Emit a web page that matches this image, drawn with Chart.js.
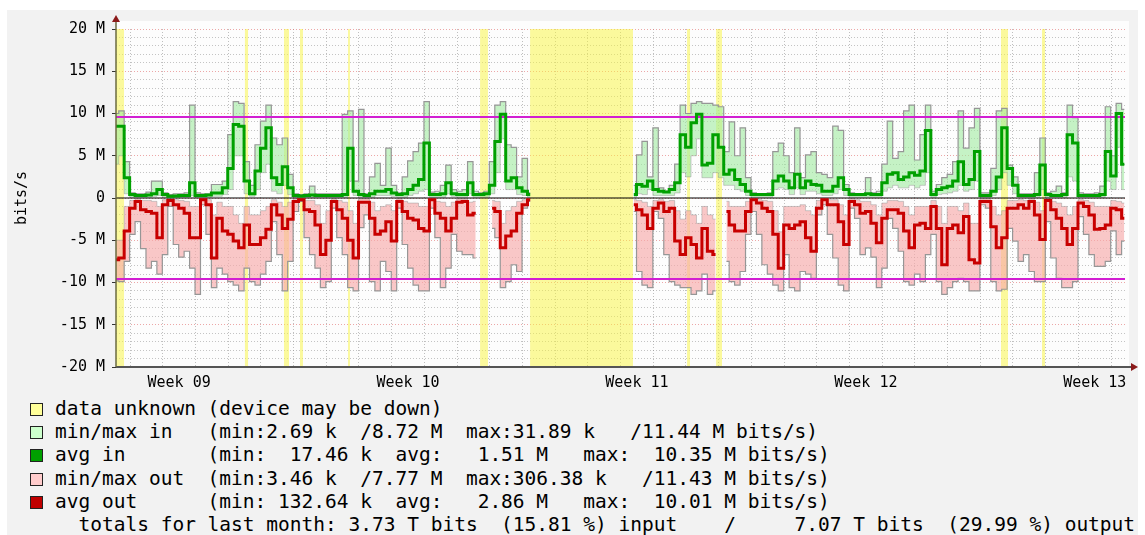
<!DOCTYPE html>
<html><head><meta charset="utf-8">
<script src="https://cdn.jsdelivr.net/npm/chart.js@4.4.1/dist/chart.umd.min.js"></script>
<style>
html,body{margin:0;padding:0;background:#fff;width:1145px;height:535px;overflow:hidden;position:relative;}
#bg{position:absolute;left:7px;top:10px;width:1131px;height:525px;background:#f2f2f2;}
#c{position:absolute;left:0;top:0;}
.row{position:absolute;left:55px;font-family:'DejaVu Sans Mono',monospace;font-size:19.5px;white-space:pre;color:#000;line-height:22px;height:22px;}
.box{position:absolute;left:30px;width:11px;height:11px;border:1px solid #222;}
</style></head><body>
<div id="bg"></div>
<canvas id="c" width="1145" height="395"></canvas>
<div id="legend"></div>
<script>
// ---- data (values in M bits/s, one sample every 4 hours) ----
const STEP_HOURS = 4;
const X_MAX_HOURS = 740.5;
const maxIn = [10,10.3,4.3,0.6,0.5,0.5,0.7,2.0,2.0,0.6, 0.4,0.5,0.5,0.6,11.0,0.6,0.5,0.5,1.6,1.6, 2.0,7.5,11.4,11.2,4.3,1.5,6.3,9.1,11.0,7.1,
 6.3,7.1,2.8,0.5,0.4,0.5,1.4,0.5,0.5,0.5, 0.5,0.5,9.9,10.3,2.0,10.5,0.5,2.5,4.1,1.5, 5.9,1.5,0.6,2.5,4.4,5.5,6.5,11.4,0.7,0.8,
 1.5,3.9,1.0,0.8,1.0,4.3,0.8,0.6,0.8,4.3, 11.0,11.4,6.3,6.0,2.5,4.7,0.6,null,null,null, null,null,null,null,null,null,null,null,null,null,
 null,null,null,null,null,1.5,5.1,6.7,2.5,8.3, 1.2,0.8,1.5,4.0,11.0,10.0,11.2,11.4,11.2,11.2, 11.0,10.8,5.5,9.0,5.0,8.3,2.4,0.6,0.5,0.5,
 0.6,5.5,6.5,5.0,3.0,8.3,2.4,5.1,5.5,3.0, 2.8,2.4,8.5,8.0,1.6,0.6,0.5,0.5,2.4,0.6, 0.8,4.0,9.1,4.7,5.5,10.3,11.0,4.5,7.5,11.0,
 0.8,1.6,2.4,2.8,4.3,10.3,5.9,8.3,10.6,0.6, 0.6,3.5,10.3,10.6,3.9,2.5,0.5,0.5,0.5,3.0, 7.1,0.6,0.8,1.4,0.6,11.0,9.5,0.6,0.5,0.5,
 0.6,1.4,10.8,5.0,11.2,10.5];
const minIn = [4,5,0.5,0.1,0.1,0.1,0.1,0.2,0.3,0.1, 0.1,0.1,0.1,0.1,0.3,0.1,0.1,0.1,0.2,0.2, 0.4,1,5,5,0.5,0.2,1,3,4,0.8,
 0.5,1.5,0.4,0.1,0.1,0.1,0.1,0.1,0.1,0.1, 0.1,0.1,0.1,2,0.3,0.1,0.1,0.1,0.3,0.3, 0.3,0.2,0.1,0.1,0.3,0.5,0.8,1,0.1,0.1,
 0.1,0.5,0.2,0.1,0.1,0.5,0.1,0.1,0.1,0.5, 3,7,1,1,0.4,0.3,0.1,null,null,null, null,null,null,null,null,null,null,null,null,null,
 null,null,null,null,null,0.1,0.5,0.4,1,0.3, 0.3,0.3,0.3,0.6,3,2.5,5,7,2.4,2.4, 3,2.4,1.5,1.5,1,0.8,0.3,0.1,0.1,0.1,
 0.1,1,1.2,1,0.4,1.2,0.4,0.8,0.8,0.5, 0.3,0.3,0.5,1,0.3,0.1,0.1,0.1,0.1,0.1, 0.1,0.8,1.2,1.5,1.2,1.2,1.5,1.2,1.5,3,
 0.1,0.4,0.5,0.6,0.8,1.5,0.8,1,2,0.1, 0.1,0.3,1,3,1.5,0.5,0.1,0.1,0.1,0.1, 1,0.1,0.1,0.1,0.1,2.5,2,0.1,0.1,0.1,
 0.1,0.1,2,1,6,1];
const avgIn = [8.5,8.5,2.4,0.4,0.3,0.3,0.35,0.5,1.0,0.4, 0.2,0.25,0.3,0.3,1.8,0.3,0.3,0.35,0.6,0.6, 1.2,3.5,8.7,8.5,2.0,0.5,3.2,5.9,8.3,2.4,
 1.6,3.7,1.2,0.3,0.25,0.3,0.35,0.3,0.3,0.3, 0.3,0.3,0.4,5.9,0.8,0.4,0.3,0.5,0.8,0.8, 1.0,0.6,0.4,0.5,1.0,1.5,2.2,6.5,0.4,0.4,
 0.5,1.8,0.5,0.4,0.4,1.8,0.4,0.4,0.5,1.5, 6.7,9.9,2.0,2.4,1.2,0.8,0.4,null,null,null, null,null,null,null,null,null,null,null,null,null,
 null,null,null,null,null,0.4,1.6,1.4,2.0,1.0, 0.8,0.7,1.0,1.8,7.5,6.0,8.9,9.9,3.9,4.1, 7.5,6.0,2.8,3.3,2.2,1.6,0.8,0.4,0.4,0.4,
 0.4,2.0,2.6,2.0,1.2,2.8,1.2,2.0,1.6,1.5, 0.8,0.8,1.4,2.4,1.0,0.4,0.4,0.4,0.5,0.4, 0.4,1.8,2.8,3.0,2.2,2.5,3.0,2.7,3.2,8.0,
 0.4,1.0,1.2,1.4,2.0,4.3,1.6,2.2,5.5,0.3, 0.3,0.8,2.5,8.3,3.5,1.5,0.3,0.3,0.3,0.4, 3.9,0.4,0.3,0.3,0.4,7.5,6.5,0.3,0.3,0.3,
 0.3,0.4,5.5,2.6,10.0,4.0];
const avgOut = [-7.3,-7.1,-3.9,-1.2,-0.4,-1.4,-1.6,-1.8,-4.7,-0.8, -0.3,-0.8,-1.2,-1.8,-4.7,-4.7,-0.2,-0.8,-7.1,-2.4, -3.9,-4.3,-5.1,-5.9,-3.2,-5.5,-5.5,-4.7,-3.7,-0.8,
 -2.0,-3.6,-2.5,-0.4,-0.2,-1.4,-1.6,-3.2,-6.7,-5.0, -0.4,-1.4,-2.4,-5.0,-7.1,-0.5,-0.5,-2.4,-4.3,-3.9, -2.8,-5.1,-0.4,-1.6,-2.4,-2.6,-3.6,-3.9,-0.2,-1.8,
 -2.4,-3.9,-2.4,-0.5,-0.4,-2.0,-1.8,null,null,-1.2, -1.6,-5.9,-4.5,-3.9,-1.8,-0.8,-0.2,null,null,null, null,null,null,null,null,null,null,null,null,null,
 null,null,null,null,null,-0.8,-1.4,-2.0,-3.6,-1.2, -0.6,-1.6,-1.2,-5.1,-6.7,-4.7,-5.5,-7.1,-3.6,-6.3, -6.7,null,-1.6,-3.2,-3.9,-3.9,-1.6,-0.2,-0.6,-1.2,
 -1.6,-4.3,-8.3,-3.2,-3.6,-3.2,-2.8,-4.7,-6.3,-1.2, -0.2,-0.8,-0.8,-2.8,-5.5,-0.4,-0.8,-1.8,-1.6,-3.0, -5.3,-2.4,-1.4,-1.4,-1.8,-3.9,-5.9,-3.2,-3.0,-3.6,
 -1.0,-3.6,-7.9,-3.6,-3.2,-4.1,-2.2,-7.3,-7.7,-0.4, -0.4,-3.4,-5.9,-4.7,-1.2,-1.2,-0.8,-1.2,-0.4,-2.0, -4.9,-0.3,-1.4,-2.4,-3.6,-5.5,-3.6,-0.6,-1.0,-2.0,
 -3.7,-3.6,-3.2,-1.2,-1.4,-2.4];
const maxOut = [-9.8,-9.9,-7.5,-4.3,-2.8,-6.0,-8.3,-7.5,-9.0,-6.7, -1.0,-5.5,-7.0,-6.3,-8.3,-11.4,-0.8,-4.3,-10.6,-8.3, -9.0,-9.9,-10.3,-11.0,-8.3,-9.9,-10.3,-9.0,-7.5,-2.8,
 -6.7,-11.0,-7.5,-1.6,-0.4,-4.7,-6.7,-8.3,-10.6,-9.9, -1.2,-4.7,-6.7,-10.6,-11.0,-3.5,-2.0,-9.9,-11.0,-7.5, -8.7,-11.0,-1.2,-5.5,-8.3,-10.3,-11.0,-11.0,-1.2,-4.7,
 -10.6,-8.3,-4.3,-6.3,-6.7,-6.7,-7.1,null,null,-3.6, -4.7,-10.6,-9.9,-7.9,-8.7,-1.2,-0.4,null,null,null, null,null,null,null,null,null,null,null,null,null,
 null,null,null,null,null,-1.6,-8.7,-10.3,-10.6,-1.6, -2.4,-6.7,-9.9,-10.3,-10.6,-10.6,-11.4,-11.0,-9.0,-11.4, -11.0,null,-7.5,-9.9,-10.3,-8.7,-4.3,-1.6,-4.3,-7.9,
 -9.0,-10.3,-11.0,-6.7,-10.6,-11.0,-8.7,-9.0,-9.5,-2.0, -0.8,-4.3,-7.1,-10.3,-11.0,-1.2,-2.4,-6.7,-5.9,-7.0, -10.6,-8.3,-2.4,-3.6,-6.3,-9.9,-10.3,-9.0,-9.9,-6.7,
 -4.3,-9.9,-11.4,-10.6,-9.9,-9.5,-9.9,-11.0,-11.0,-0.8, -1.2,-9.9,-11.0,-10.8,-3.6,-5.1,-7.5,-6.7,-8.7,-9.9, -9.9,-2.8,-7.1,-9.5,-10.6,-10.6,-9.9,-2.2,-4.3,-6.7,
 -8.1,-8.1,-7.5,-3.9,-6.7,-5.1];
const minOut = [-5,-5,-1,-0.3,-0.1,-0.3,-0.3,-0.4,-1,-0.2, -0.1,-0.2,-0.3,-0.4,-1,-1,-0.1,-0.2,-2,-0.5, -1,-1,-2,-3,-1,-2,-2,-1.5,-1,-0.2,
 -0.5,-1,-0.5,-0.1,-0.1,-0.3,-0.3,-0.8,-3,-1.5, -0.1,-0.3,-0.5,-1.5,-3,-0.1,-0.1,-0.5,-1.5,-1, -0.8,-1.5,-0.1,-0.4,-0.6,-0.6,-1,-1,-0.1,-0.4,
 -0.5,-1,-0.5,-0.1,-0.1,-0.5,-0.4,null,null,-0.3, -0.4,-3,-1.5,-1,-0.4,-0.2,-0.1,null,null,null, null,null,null,null,null,null,null,null,null,null,
 null,null,null,null,null,-0.2,-0.3,-0.5,-1,-0.3, -0.2,-0.4,-0.3,-1.5,-2.5,-1.5,-2,-3,-1,-2, -2.5,null,-0.4,-1,-1,-1,-0.4,-0.1,-0.2,-0.3,
 -0.4,-1.5,-4,-1,-1,-1,-0.8,-1.5,-2,-0.3, -0.1,-0.2,-0.2,-0.8,-2,-0.1,-0.2,-0.4,-0.4,-0.8, -2,-0.6,-0.3,-0.3,-0.4,-1,-2,-1,-1,-1,
 -0.3,-1,-3,-1,-1,-1.5,-0.6,-3,-3,-0.1, -0.1,-1,-2,-1.5,-0.3,-0.3,-0.2,-0.3,-0.1,-0.5, -1.5,-0.1,-0.4,-0.6,-1,-2,-1,-0.2,-0.3,-0.5,
 -1,-1,-1,-0.3,-0.4,-0.6];
// periods with unknown data [startHour, endHour]
const unknownRanges = [[0,6],[94.5,97],[123.3,127],[135,137.2],[170.3,171.7],[267.2,273],[303.9,379.4],[419.1,421.3],[440.4,444.8],[649.5,654.7],[679.6,681.8]];
const hrules = [9.6, -9.6];
const zeroRule = [0];
const weekTickHours = [46.3, 214.3, 382.3, 550.3, 718.3];
const weekLabels = ['Week 09','Week 10','Week 11','Week 12','Week 13'];
const dayGridStartHour = 10.3;
const yTickLabelsEvery = 5;

const legendLabels = [
 'data unknown (device may be down)',
 'min/max in   (min:2.69 k  /8.72 M  max:31.89 k   /11.44 M bits/s)',
 'avg in       (min:  17.46 k  avg:   1.51 M   max:  10.35 M bits/s)',
 'min/max out  (min:3.46 k  /7.77 M  max:306.38 k   /11.43 M bits/s)',
 'avg out      (min: 132.64 k  avg:   2.86 M   max:  10.01 M bits/s)',
 '  totals for last month: 3.73 T bits  (15.81 %) input    /     7.07 T bits  (29.99 %) output'
];
const legendColors = ['#ffff99','#ccffcc','#00a000','#ffcccc','#c00000', null];

// ---- build ----
const times = maxIn.map((_, i) => i * STEP_HOURS);
const pts = arr => arr.map((v, i) => ({x: times[i], y: v}));
const unknownPts = [];
unknownRanges.forEach(([s, e]) => { unknownPts.push({x:s,y:20},{x:e,y:20},{x:e,y:null}); });

const yTicks = [];
for (let v = -20; v <= 20; v++) yTicks.push(v);
const xTicks = [];
for (let h = dayGridStartHour; h <= X_MAX_HOURS; h += 24) xTicks.push(h);
weekTickHours.forEach(h => xTicks.push(h));
xTicks.sort((a,b)=>a-b);
const isWeek = v => weekTickHours.some(w => Math.abs(w - v) < 1e-6);

const lineBase = {pointRadius:0, tension:0, spanGaps:false, borderJoinStyle:'miter'};
const dataLine = Object.assign({}, lineBase, {stepped:'middle'});
const hruleSet = (v, color, w, order) => Object.assign({}, lineBase, {
  data:[{x:0,y:v},{x:X_MAX_HOURS,y:v}], borderColor:color, borderWidth:w, fill:false, order});

const datasets = [
  Object.assign({}, lineBase, {label:'unknown', data:unknownPts, borderWidth:0, borderColor:'rgba(0,0,0,0)', backgroundColor:'rgba(250,245,60,0.5)', fill:'start', order:20}),
  Object.assign({}, dataLine, {label:'max in', data:pts(maxIn), borderColor:'rgb(150,150,150)', borderWidth:1.2, backgroundColor:'rgba(160,235,160,0.6)', fill:'+1', order:12}),
  Object.assign({}, dataLine, {label:'min in', data:pts(minIn), borderColor:'rgba(150,150,150,0.6)', borderWidth:0.8, fill:false, order:11}),
  Object.assign({}, dataLine, {label:'max out', data:pts(maxOut), borderColor:'rgb(150,150,150)', borderWidth:1.2, backgroundColor:'rgba(248,170,170,0.65)', fill:'+1', order:10}),
  Object.assign({}, dataLine, {label:'min out', data:pts(minOut), borderColor:'rgba(150,150,150,0.6)', borderWidth:0.8, fill:false, order:9}),
  hruleSet(zeroRule[0], '#000', 1.2, 6),
  hruleSet(hrules[0], 'rgb(210,30,210)', 2, 5),
  hruleSet(hrules[1], 'rgb(210,30,210)', 2, 5),
  Object.assign({}, dataLine, {label:'avg out', data:pts(avgOut), borderColor:'rgb(200,0,0)', borderWidth:3, fill:false, order:2}),
  Object.assign({}, dataLine, {label:'avg in', data:pts(avgIn), borderColor:'rgb(0,160,0)', borderWidth:3, fill:false, order:1})
];

const monoFont = {family:"'DejaVu Sans Mono', monospace", size:15};

const framePlugin = {
  id:'frame',
  beforeDraw(chart){
    const {ctx, chartArea:a} = chart;
    ctx.save(); ctx.fillStyle = '#fdfdfd';
    ctx.fillRect(a.left, a.top - 8, a.right - a.left + 4, a.bottom - a.top + 8);
    ctx.restore();
  },
  afterDraw(chart){
    const {ctx, chartArea:a} = chart;
    ctx.save();
    ctx.strokeStyle = '#555'; ctx.lineWidth = 2;
    ctx.beginPath(); ctx.moveTo(a.left, a.bottom); ctx.lineTo(a.right + 8, a.bottom); ctx.stroke();
    ctx.strokeStyle = '#6a6a40'; ctx.lineWidth = 1.5;
    ctx.beginPath(); ctx.moveTo(a.left, a.bottom); ctx.lineTo(a.left, a.top - 9); ctx.stroke();
    ctx.fillStyle = '#8b1a1a';
    ctx.beginPath(); ctx.moveTo(a.left - 4, a.top - 7); ctx.lineTo(a.left + 4, a.top - 7); ctx.lineTo(a.left, a.top - 14); ctx.closePath(); ctx.fill();
    ctx.beginPath(); ctx.moveTo(a.right + 6, a.bottom - 4); ctx.lineTo(a.right + 6, a.bottom + 4); ctx.lineTo(a.right + 13, a.bottom); ctx.closePath(); ctx.fill();
    ctx.restore();
  }
};

new Chart(document.getElementById('c'), {
  type:'line',
  data:{datasets},
  options:{
    responsive:false, animation:false, maintainAspectRatio:false,
    layout:{padding:{left:0, top:29, right:20, bottom:0}},
    plugins:{legend:{display:false}, tooltip:{enabled:false}},
    scales:{
      x:{type:'linear', min:0, max:X_MAX_HOURS,
        afterBuildTicks: s => { s.ticks = xTicks.map(v => ({value:v})); },
        afterFit: s => { s.height = 28; },
        ticks:{autoSkip:false, maxRotation:0, minRotation:0, padding:7, font:monoFont, color:'#000',
          callback: v => { const k = weekTickHours.findIndex(w => Math.abs(w - v) < 1e-6); return k >= 0 ? weekLabels[k] : ''; }},
        grid:{drawTicks:false, lineWidth:1, color: c => (c.tick && isWeek(c.tick.value)) ? 'rgba(0,0,0,0)' : 'rgba(140,140,140,0.55)'},
        border:{display:false, dash:[1,2]}
      },
      y:{type:'linear', min:-20, max:20,
        afterBuildTicks: s => { s.ticks = yTicks.map(v => ({value:v})); },
        afterFit: s => { s.width = 116; },
        ticks:{autoSkip:false, padding:7, font:monoFont, color:'#000',
          callback: v => (v % yTickLabelsEvery === 0) ? (v === 0 ? '0' : v + ' M') : ''},
        grid:{lineWidth:1, tickLength:4,
          color: c => (c.tick && c.tick.value % yTickLabelsEvery === 0) ? 'rgba(225,110,110,0.6)' : 'rgba(140,140,140,0.5)',
          tickColor: c => (c.tick && c.tick.value % yTickLabelsEvery === 0) ? '#333' : 'rgba(0,0,0,0)'},
        border:{display:false, dash:[1,2]},
        title:{display:true, text:'bits/s', font:monoFont, color:'#000', padding:{top:13, bottom:0}}
      }
    }
  },
  plugins:[framePlugin]
});

// ---- legend ----
const legend = document.getElementById('legend');
const rowCenters = [409, 432, 455, 479, 502, 525];
legendLabels.forEach((t, k) => {
  const r = document.createElement('div');
  r.className = 'row'; r.style.top = (rowCenters[k] - 11) + 'px'; r.textContent = t;
  legend.appendChild(r);
  if (legendColors[k]) {
    const b = document.createElement('div');
    b.className = 'box'; b.style.top = (rowCenters[k] - 6) + 'px'; b.style.background = legendColors[k];
    legend.appendChild(b);
  }
});
</script></body></html>
